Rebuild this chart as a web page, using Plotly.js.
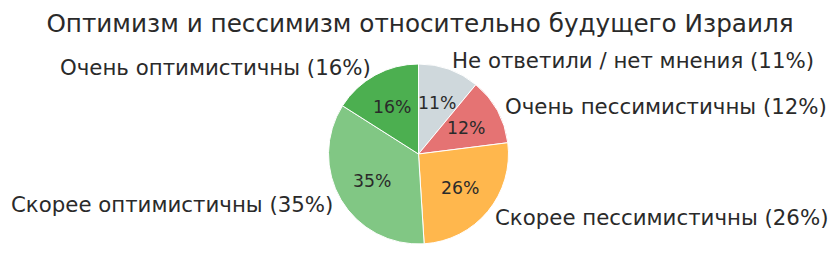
<!DOCTYPE html>
<html>
<head>
<meta charset="utf-8">
<script src="https://cdn.plot.ly/plotly-3.0.1.min.js"></script>
<style>html,body{margin:0;padding:0;background:#fff}#chart{width:840px;height:280px}</style>
</head>
<body>
<div id="chart"></div>
<script>
const categories = ["Не ответили / нет мнения", "Очень пессимистичны", "Скорее пессимистичны", "Скорее оптимистичны", "Очень оптимистичны"];
const values = [11, 12, 26, 35, 16];
const colors = ["#CFD8DC", "#E57373", "#FFB74D", "#81C784", "#4CAF50"];
const titleText = "Оптимизм и пессимизм относительно будущего Израиля";

const W = 840, H = 280;
const cx = 418.5, cy = 154, R = 90;
const dom = {x: [(cx - R) / W, (cx + R) / W], y: [(H - cy - R) / H, (H - cy + R) / H]};
const textColor = "#2a2a2a";
const fam = "DejaVu Sans, sans-serif";

const total = values.reduce((a, b) => a + b, 0);
const annotations = [];
let cum = 0;
values.forEach((v, i) => {
  const mid = (cum + v / 2) / total * 2 * Math.PI;
  cum += v;
  const s = Math.sin(mid), c = Math.cos(mid);
  const pct = Math.round(v / total * 100) + "%";
  annotations.push({
    xref: "paper", yref: "paper",
    x: (cx + 1.1 * R * s) / W, y: (H - (cy - 1.1 * R * c)) / H,
    xanchor: s >= 0 ? "left" : "right", yanchor: "middle",
    text: categories[i] + " (" + pct + ")", showarrow: false,
    borderpad: 0, borderwidth: 0,
    font: {family: fam, size: 21.3, color: textColor}
  });
  annotations.push({
    xref: "paper", yref: "paper",
    x: (cx + 0.6 * R * s) / W, y: (H - (cy - 0.6 * R * c)) / H,
    xanchor: "center", yanchor: "middle",
    text: pct, showarrow: false,
    borderpad: 0, borderwidth: 0,
    font: {family: fam, size: 17.3, color: textColor}
  });
});

Plotly.newPlot("chart", [{
  type: "pie",
  labels: categories,
  values: values,
  sort: false,
  direction: "clockwise",
  rotation: 0,
  textinfo: "none",
  marker: {colors: colors, line: {color: "#ffffff", width: 1}},
  domain: dom,
  showlegend: false,
  hoverinfo: "label+percent"
}], {
  width: W, height: H,
  margin: {l: 0, r: 0, t: 0, b: 0},
  paper_bgcolor: "#ffffff",
  title: {text: titleText, x: 0.5, xanchor: "center", y: 1 - 23 / H, yanchor: "middle",
          font: {family: fam, size: 24.7, color: textColor}},
  annotations: annotations,
  showlegend: false
}, {displayModeBar: false, staticPlot: true});
</script>
</body>
</html>
